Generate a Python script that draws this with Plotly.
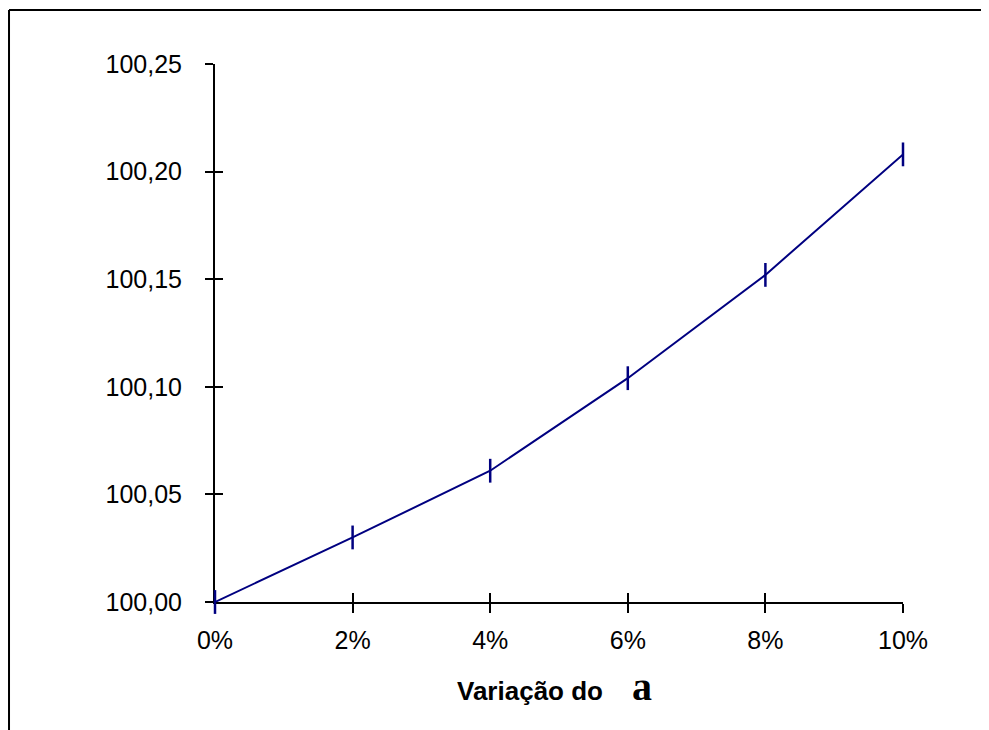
import plotly.graph_objects as go

# Data
variacao = [0.00, 0.02, 0.04, 0.06, 0.08, 0.10]
valores = [100.000, 100.030, 100.061, 100.104, 100.152, 100.208]

x_tickvals = [0.00, 0.02, 0.04, 0.06, 0.08, 0.10]
x_ticktext = ["0%", "2%", "4%", "6%", "8%", "10%"]
y_tickvals = [100.00, 100.05, 100.10, 100.15, 100.20, 100.25]
y_ticktext = ["100,00", "100,05", "100,10", "100,15", "100,20", "100,25"]

NAVY = "#000080"
FONT = "Liberation Sans, Arial, sans-serif"

fig = go.Figure()

fig.add_trace(go.Scatter(
    x=variacao, y=valores,
    mode="lines+markers",
    line=dict(color=NAVY, width=2),
    marker=dict(symbol="line-ns", size=17, line=dict(color=NAVY, width=2.5)),
    cliponaxis=False,
    showlegend=False,
    hoverinfo="x+y",
))

# invisible companion trace so the overlay axes (inner tick halves) render
fig.add_trace(go.Scatter(
    x=variacao, y=valores, xaxis="x2", yaxis="y2",
    mode="lines", opacity=0, showlegend=False, hoverinfo="skip",
))

axis_common = dict(showgrid=False, zeroline=False, fixedrange=True)

fig.update_layout(
    width=989, height=730,
    margin=dict(l=207, r=94, t=56, b=136),
    paper_bgcolor="white", plot_bgcolor="white",
    font=dict(family=FONT, size=25, color="black"),
    xaxis=dict(
        range=[0, 0.10], tickvals=x_tickvals, ticktext=x_ticktext,
        ticks="outside", ticklen=9, tickwidth=2, tickcolor="black",
        showline=True, linecolor="black", linewidth=2,
        ticklabelstandoff=6, layer="below traces", **axis_common,
    ),
    yaxis=dict(
        range=[100.0, 100.25], tickvals=y_tickvals, ticktext=y_ticktext,
        ticks="outside", ticklen=8, tickwidth=2, tickcolor="black",
        showline=True, linecolor="black", linewidth=2,
        ticklabelstandoff=18, layer="below traces", **axis_common,
    ),
    xaxis2=dict(
        range=[0, 0.10], tickvals=x_tickvals, overlaying="x", side="bottom",
        ticks="inside", ticklen=9, tickwidth=2, tickcolor="black",
        showticklabels=False, showline=False, layer="below traces", **axis_common,
    ),
    yaxis2=dict(
        range=[100.0, 100.25], tickvals=y_tickvals, overlaying="y", side="left",
        ticks="inside", ticklen=8, tickwidth=2, tickcolor="black",
        showticklabels=False, showline=False, layer="below traces", **axis_common,
    ),
    annotations=[dict(
        text="<b>Variação do</b>&nbsp;&nbsp;&nbsp;&nbsp;"
             "<span style='font-family:Liberation Serif, Times New Roman, serif;font-size:40px'><b>a</b></span>",
        xref="paper", yref="paper", x=0.493, y=-0.157,
        xanchor="center", yanchor="middle", showarrow=False,
        font=dict(family=FONT, size=26, color="black"),
    )],
    shapes=[
        dict(type="line", xref="paper", yref="paper",
             x0=-0.2994, x1=-0.2994, y0=1.1004, y1=-0.5,
             line=dict(color="black", width=2)),
        dict(type="line", xref="paper", yref="paper",
             x0=-0.2994, x1=1.5, y0=1.1004, y1=1.1004,
             line=dict(color="black", width=2)),
    ],
)

fig.write_html("out.html")
